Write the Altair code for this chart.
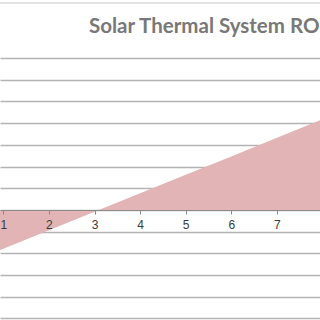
import altair as alt
import pandas as pd

# Data (net cumulative value per year; gridline step = 500)
years = [0, 1, 2, 3, 4, 5, 6, 7, 8]
net_value = [-1315, -890, -465, -40, 385, 810, 1235, 1665, 2090]
tick_years = [1, 2, 3, 4, 5, 6, 7]
grid_values = [-2500, -2000, -1500, -1000, -500, 0, 500, 1000, 1500, 2000, 2500, 3000, 3500]
title_text = "Solar Thermal System ROI"

df = pd.DataFrame({"year": years, "value": net_value})

area = alt.Chart(df).mark_area(color="#e3b4b5", opacity=1, clip=True).encode(
    x=alt.X(
        "year:Q",
        scale=alt.Scale(domain=[0.9276, 7.945], nice=False, zero=False),
        axis=alt.Axis(
            values=tick_years,
            offset=-110,
            title=None,
            grid=False,
            domain=True,
            domainColor="#8a8a8a",
            domainWidth=1,
            ticks=True,
            tickColor="#8a8a8a",
            tickSize=4,
            labelFont="Liberation Sans",
            labelFontSize=12,
            labelColor="#3a3a3a",
            labelPadding=5,
            zindex=1,
            format="d",
        ),
    ),
    y=alt.Y(
        "value:Q",
        scale=alt.Scale(domain=[-2534.6, 4838.7], nice=False, zero=False),
        axis=alt.Axis(
            values=grid_values,
            grid=True,
            gridColor="#b4b4b4",
            gridWidth=1.4,
            labels=False,
            ticks=False,
            domain=False,
            title=None,
            zindex=0,
        ),
    ),
    y2=alt.datum(0),
)

title_layer = alt.Chart(pd.DataFrame({"t": [title_text]})).mark_text(
    align="left",
    baseline="alphabetic",
    font="Lato",
    fontWeight="bold",
    fontSize=20.5,
    color="#787878",
).encode(x=alt.value(89), y=alt.value(33), text="t:N")

top_rule = alt.Chart(pd.DataFrame({"a": [0]})).mark_rule(color="#c8c8c8", strokeWidth=1).encode(
    x=alt.value(0), x2=alt.value(320), y=alt.value(3)
)

chart = (
    alt.layer(area, title_layer, top_rule)
    .properties(width=320, height=320, padding=0, autosize="none", background="white")
    .configure_view(stroke=None)
)

chart.save("out.html", embed_options={"renderer": "svg", "actions": False})
